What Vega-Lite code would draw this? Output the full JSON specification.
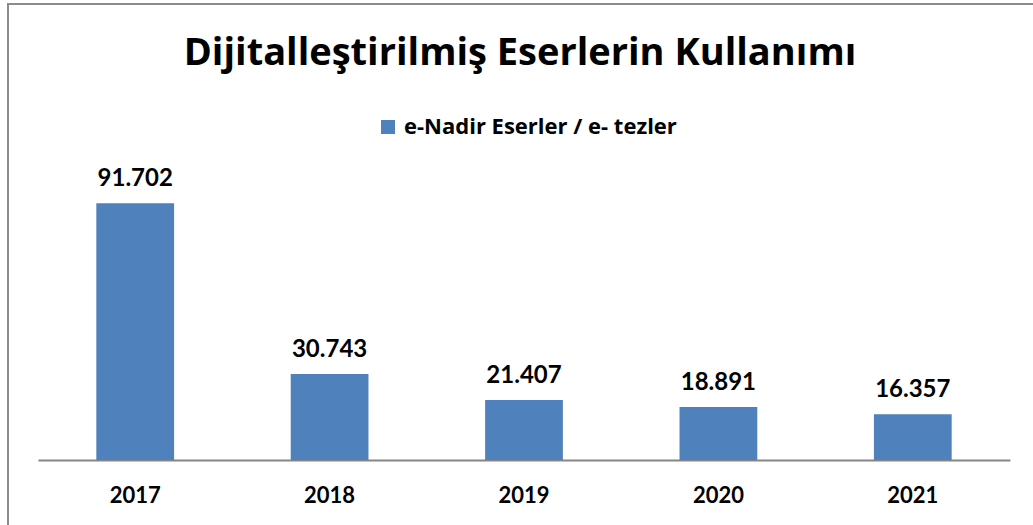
{
  "$schema": "https://vega.github.io/schema/vega-lite/v6.json",
  "autosize": "none",
  "padding": {"left": 8, "top": 4, "right": 0, "bottom": 0},
  "width": 1030,
  "height": 530,
  "background": "white",
  "title": {
    "text": "Dijitalleştirilmiş Eserlerin Kullanımı",
    "font": "Open Sans",
    "fontSize": 38,
    "fontWeight": "bold",
    "color": "#000000",
    "anchor": "middle",
    "baseline": "alphabetic",
    "offset": -99,
    "dx": -3
  },
  "data": {
    "values": [
      {"year": "2017", "series": "e-Nadir Eserler / e- tezler", "value": 91702},
      {"year": "2018", "series": "e-Nadir Eserler / e- tezler", "value": 30743},
      {"year": "2019", "series": "e-Nadir Eserler / e- tezler", "value": 21407},
      {"year": "2020", "series": "e-Nadir Eserler / e- tezler", "value": 18891},
      {"year": "2021", "series": "e-Nadir Eserler / e- tezler", "value": 16357}
    ]
  },
  "encoding": {
    "x": {
      "field": "year",
      "type": "nominal",
      "sort": null,
      "scale": {"range": [30, 1002], "paddingInner": 0.6, "paddingOuter": 0.3},
      "axis": {
        "title": null,
        "labelAngle": 0,
        "labelFont": "Lato",
        "labelFontSize": 22,
        "labelFontWeight": "bold",
        "labelColor": "#000000",
        "ticks": false,
        "labelPadding": 25,
        "domainColor": "#868686",
        "domainWidth": 2,
        "offset": -74
      }
    },
    "y": {
      "field": "value",
      "type": "quantitative",
      "scale": {"domain": [0, 100000], "range": [456, 176], "nice": false},
      "axis": null
    }
  },
  "layer": [
    {
      "mark": {"type": "bar", "color": "#4F81BD"},
      "encoding": {
        "color": {
          "field": "series",
          "type": "nominal",
          "scale": {"range": ["#4F81BD"]},
          "legend": {
            "title": null,
            "orient": "none",
            "legendX": 369,
            "legendY": 112,
            "direction": "horizontal",
            "symbolType": "square",
            "symbolSize": 196,
            "symbolStrokeWidth": 0,
            "labelFont": "Open Sans",
            "labelFontSize": 22,
            "labelFontWeight": "bold",
            "labelColor": "#000000",
            "labelLimit": 500,
            "padding": 0,
            "labelOffset": 5
          }
        }
      }
    },
    {
      "mark": {
        "type": "text",
        "baseline": "alphabetic",
        "dy": -17,
        "font": "Lato",
        "fontSize": 24,
        "fontWeight": "bold",
        "color": "#000000"
      },
      "encoding": {
        "text": {"field": "value", "type": "quantitative", "format": ",d"}
      }
    }
  ],
  "config": {
    "locale": {
      "number": {"decimal": ",", "thousands": ".", "grouping": [3], "currency": ["", " ₺"]}
    },
    "view": {"stroke": "#8c8c8c", "strokeWidth": 2}
  }
}
